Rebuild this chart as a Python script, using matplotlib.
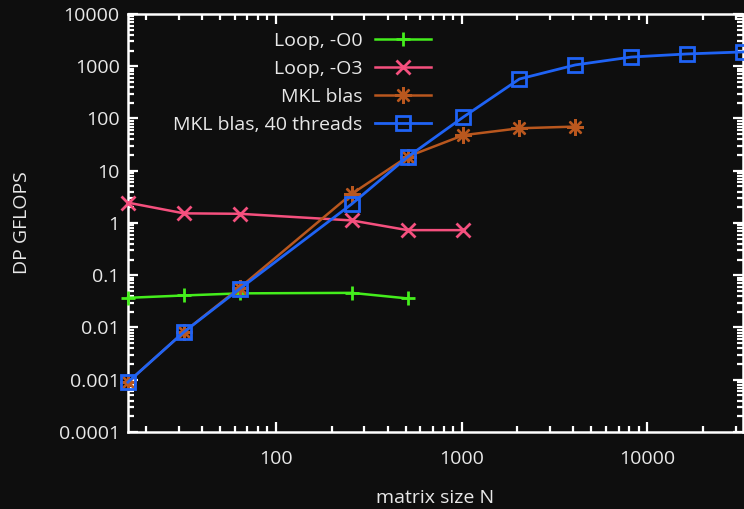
import matplotlib
matplotlib.use("Agg")
import matplotlib.pyplot as plt
from matplotlib.ticker import LogLocator, FuncFormatter, NullFormatter

plt.rcParams['font.family'] = ['Open Sans', 'DejaVu Sans']

# data (matrix size N vs DP GFLOPS)
n_o0 = [16, 32, 64, 256, 512]
gf_o0 = [0.037, 0.041, 0.045, 0.046, 0.036]

n_o3 = [16, 32, 64, 256, 512, 1024]
gf_o3 = [2.45, 1.53, 1.50, 1.12, 0.73, 0.73]

n_mkl = [16, 32, 64, 256, 512, 1024, 2048, 4096]
gf_mkl = [0.0009, 0.0082, 0.058, 3.6, 18.6, 48, 65, 70]

n_mkl40 = [16, 32, 64, 256, 512, 1024, 2048, 4096, 8192, 16384, 32768]
gf_mkl40 = [0.0009, 0.0082, 0.055, 2.3, 18.3, 107, 570, 1060, 1500, 1720, 1880]

bg = '#0e0e0e'
fg = '#e8e8e8'

fig = plt.figure(figsize=(7.44, 5.09), dpi=100, facecolor=bg)
ax = fig.add_axes([0.172, 0.1513, 0.8267, 0.8212], facecolor=bg)

ax.plot(n_o0, gf_o0, color='#44ee1c', lw=1.8, marker='+', ms=9.5, mew=2,
        label='Loop, -O0', clip_on=False, zorder=3)
ax.plot(n_o3, gf_o3, color='#f5507e', lw=1.8, marker='x', ms=9.5, mew=2,
        label='Loop, -O3', clip_on=False, zorder=3)
ax.plot(n_mkl, gf_mkl, color='#b9571e', lw=1.8, marker=(8, 2, 0), ms=12, mew=1.7,
        label='MKL blas', clip_on=False, zorder=3)
ax.plot(n_mkl40, gf_mkl40, color='#1f63f5', lw=2, marker='s', ms=10, mew=2,
        mfc='none', label='MKL blas, 40 threads', clip_on=False, zorder=4)

ax.set_xscale('log')
ax.set_yscale('log')
ax.set_xlim(16, 32768)
ax.set_ylim(1e-4, 1e4)

ax.yaxis.set_major_locator(LogLocator(base=10, numticks=20))
ax.yaxis.set_minor_locator(LogLocator(base=10, subs=range(2, 10), numticks=20))
ax.xaxis.set_major_locator(LogLocator(base=10, numticks=20))
ax.xaxis.set_minor_locator(LogLocator(base=10, subs=range(2, 10), numticks=20))
fmt = FuncFormatter(lambda v, p: '{:g}'.format(v) if v < 1 else str(int(round(v))))
ax.yaxis.set_major_formatter(fmt)
ax.xaxis.set_major_formatter(fmt)
ax.xaxis.set_minor_formatter(NullFormatter())
ax.yaxis.set_minor_formatter(NullFormatter())

for s in ax.spines.values():
    s.set_color('white')
    s.set_linewidth(1.8)
ax.tick_params(which='both', direction='in', top=True, right=True,
               colors='white', labelcolor=fg, labelsize=14, width=1.6)
ax.tick_params(which='major', length=7)
ax.tick_params(which='minor', length=4)
ax.tick_params(axis='y', pad=6)
ax.tick_params(axis='x', pad=13)

ax.set_xlabel('matrix size N', color=fg, fontsize=14, labelpad=15)
ax.set_ylabel('DP GFLOPS', color=fg, fontsize=14, labelpad=20)

leg = ax.legend(loc='upper right', bbox_to_anchor=(0.492, 0.957), frameon=False,
                markerfirst=False, fontsize=14, handlelength=2.85,
                handletextpad=0.65, labelspacing=0.52, borderpad=0, borderaxespad=0)
for t in leg.get_texts():
    t.set_color(fg)

fig.savefig('out.png', dpi=100, facecolor=bg)
